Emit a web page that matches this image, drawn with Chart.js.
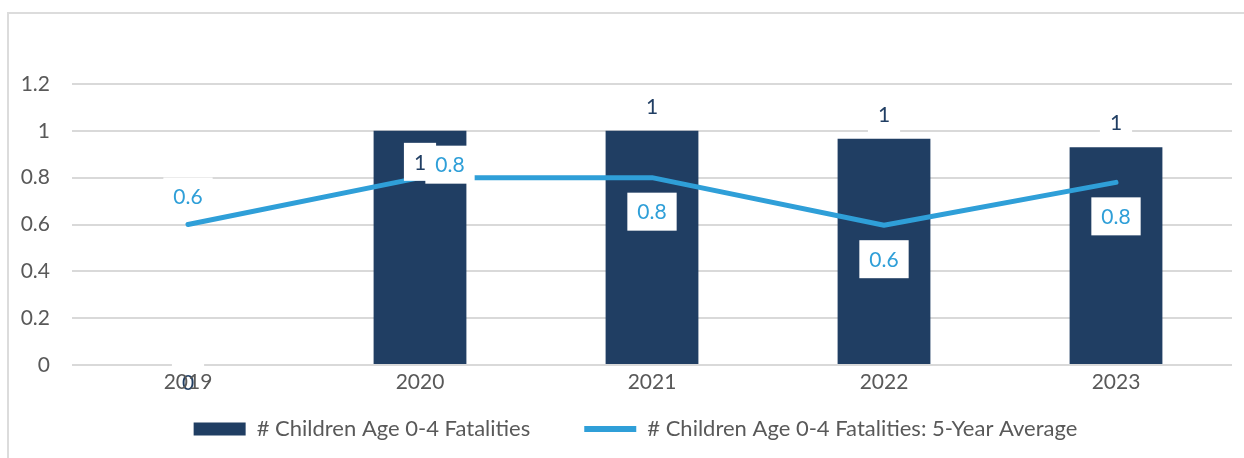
<!DOCTYPE html>
<html>
<head>
<meta charset="utf-8">
<script src="https://cdn.jsdelivr.net/npm/chart.js@4/dist/chart.umd.min.js"></script>
<style>
  html, body { margin: 0; padding: 0; background: #fff; overflow: hidden; }
  #frame {
    position: absolute;
    left: 7px;
    top: 12px;
    width: 1260px;
    height: 470px;
    border: 2px solid #dcdcdc;
  }
  #chart { position: absolute; left: 0; top: 0; }
</style>
</head>
<body>
<div id="frame">
  <canvas id="chart" width="1235" height="444"></canvas>
</div>
<script>

const years = ['2019', '2020', '2021', '2022', '2023'];
const fatalities = [0, 1, 1, 0.966, 0.93];
const fiveYearAvg = [0.6, 0.8, 0.8, 0.597, 0.78];
const yTicks = [0, 0.2, 0.4, 0.6, 0.8, 1, 1.2];

const navy = '#203E63';
const blue = '#2F9FD8';
const grey = '#595959';
const font = 'Lato';

// white-boxed value labels, like the excel data labels
const valueLabels = {
  id: 'valueLabels',
  afterLayout(chart, args, opts) {
    // nudge the legend row a little right, as in the original
    chart.legend.left += opts.legendShift;
    chart.legend.right += opts.legendShift;
  },
  afterDatasetsDraw(chart, args, opts) {
    const ctx = chart.ctx;
    ctx.save();
    ctx.font = opts.size + 'px ' + font;
    ctx.textAlign = 'center';
    ctx.textBaseline = 'middle';
    opts.sets.forEach(set => {
      const ds = chart.data.datasets[set.index];
      const meta = chart.getDatasetMeta(set.index);
      meta.data.forEach((el, i) => {
        const off = set.offsets[i] || set.offset;
        const x = el.x + off[0];
        const y = el.y + off[1];
        const txt = set.format(ds.data[i]);
        const w = ctx.measureText(txt).width + 20;
        const h = 38;
        ctx.fillStyle = '#fff';
        ctx.fillRect(x - w / 2, y - h / 2, w, h);
        ctx.fillStyle = set.color;
        ctx.fillText(txt, x, y + 1);
      });
    });
    ctx.restore();
  }
};

new Chart(document.getElementById('chart').getContext('2d'), {
  type: 'bar',
  data: {
    labels: years,
    datasets: [{
      label: '# Children Age 0-4 Fatalities',
      data: fatalities,
      backgroundColor: navy,
      borderWidth: 0,
      categoryPercentage: 1,
      barPercentage: 0.4,
      order: 2
    }, {
      type: 'line',
      label: '# Children Age 0-4 Fatalities: 5-Year Average',
      data: fiveYearAvg,
      borderColor: blue,
      backgroundColor: blue,
      borderWidth: 5,
      borderCapStyle: 'round',
      borderJoinStyle: 'round',
      pointRadius: 0,
      tension: 0,
      order: 1
    }]
  },
  options: {
    responsive: false,
    animation: false,
    layout: { padding: { top: 70, right: 12, left: 0, bottom: 8 } },
    scales: {
      x: {
        grid: { display: false, drawTicks: false },
        border: { display: false },
        ticks: { z: 1, color: grey, font: { family: font, size: 21 }, padding: 5 },
        afterFit(scale) { scale.height = 43; }
      },
      y: {
        min: 0,
        max: 1.2,
        afterBuildTicks(scale) { scale.ticks = yTicks.map(v => ({ value: v })); },
        grid: { color: '#d9d9d9', lineWidth: 2, drawTicks: false },
        border: { display: false },
        ticks: {
          color: grey,
          font: { family: font, size: 21 },
          padding: 22,
          callback: v => String(+v.toFixed(1))
        },
        afterFit(scale) { scale.width = 63; }
      }
    },
    plugins: {
      tooltip: { enabled: false },
      legend: {
        position: 'bottom',
        labels: {
          color: grey,
          font: { family: font, size: 22 },
          usePointStyle: true,
          pointStyleWidth: 52,
          boxHeight: 13,
          padding: 10,
          sort: (a, b) => a.datasetIndex - b.datasetIndex,
          generateLabels(chart) {
            // wide spaces after the first entry open the gap seen between the two items
            return chart.data.datasets.map((ds, i) => ({
              text: i === 0 ? ds.label + '\u2003\u2003\u2002' : ds.label,
              datasetIndex: i,
              fillStyle: ds.backgroundColor,
              strokeStyle: ds.type === 'line' ? ds.borderColor : ds.backgroundColor,
              lineWidth: ds.type === 'line' ? 6 : 0,
              pointStyle: ds.type === 'line' ? 'line' : 'rect',
              fontColor: grey
            }));
          }
        }
      },
      valueLabels: {
        size: 21,
        legendShift: 15,
        sets: [
          { index: 0, color: navy, format: v => String(Math.round(v)),
            offset: [0, -25], offsets: { 0: [0, 17], 1: [0, 31] } },
          { index: 1, color: blue, format: v => v.toFixed(1),
            offset: [0, 34], offsets: { 0: [0, -28], 1: [30, -13] } }
        ]
      }
    }
  },
  plugins: [valueLabels]
});
</script>
</body>
</html>
